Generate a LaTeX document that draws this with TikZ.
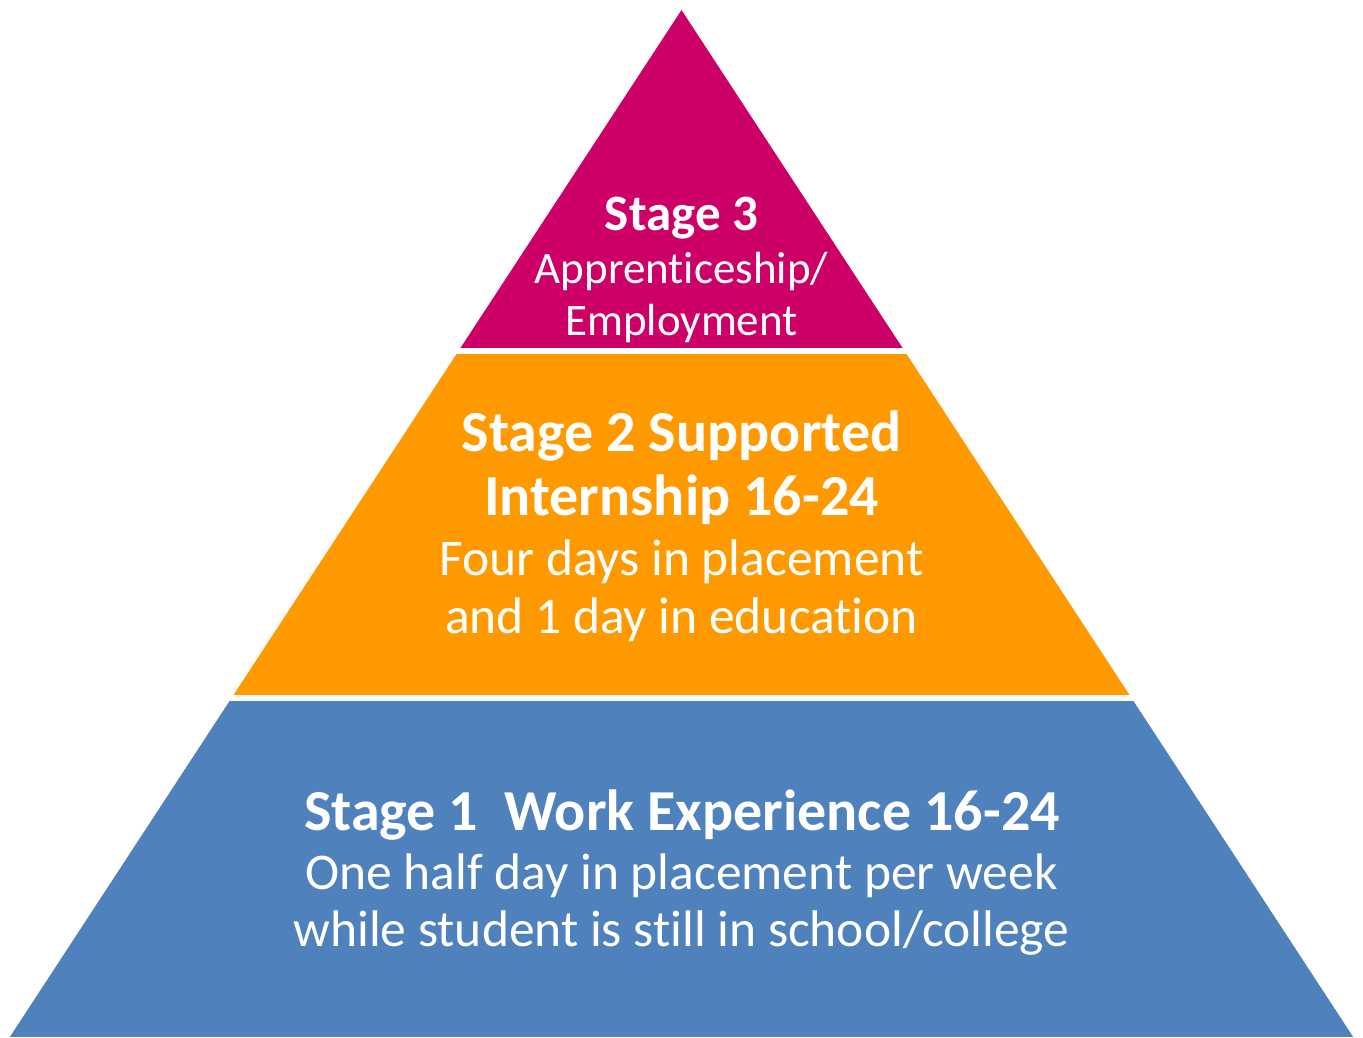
\documentclass[tikz,border=0pt]{standalone}
\usepackage{fontspec}
\setmainfont[RawFeature=-liga]{Carlito}
\definecolor{topc}{HTML}{CC0066}
\definecolor{midc}{HTML}{FF9900}
\definecolor{botc}{HTML}{4F81BD}
\tikzset{
  lbl/.style={text=white, inner sep=0pt, anchor=base},
  bigb/.style={lbl, font=\fontsize{58}{64}\selectfont\bfseries},
  bigr/.style={lbl, font=\fontsize{51.5}{58}\selectfont},
  smb/.style={lbl, font=\fontsize{51}{56}\selectfont\bfseries},
  smr/.style={lbl, font=\fontsize{45}{50}\selectfont},
}
\begin{document}
\begin{tikzpicture}[x=1pt,y=-1pt]
\useasboundingbox (0,0) rectangle (1363,1037);
\fill[white] (0,0) rectangle (1363,1037);
\coordinate (apex) at (681.5,10);
\coordinate (bl) at (9.8,1037);
\coordinate (br) at (1353.2,1037);
\begin{scope}
  \clip (apex) -- (br) -- (bl) -- cycle;
  \fill[topc] (0,0) rectangle (1363,348);
  \fill[midc] (0,354) rectangle (1363,695);
  \fill[botc] (0,701) rectangle (1363,1037);
\end{scope}
% Stage 3
\node[smb] (s3a) at (681.5,230) {Stage 3};
\node[smr] (s3b) at (681.5,283) {Apprenticeship/};
\node[smr] (s3c) at (681.5,335) {Employment};
% Stage 2
\node[bigb] (s2a) at (681.5,451) {Stage 2 Supported};
\node[bigb] (s2b) at (681.5,515) {Internship 16-24};
\node[bigr] (s2c) at (681.5,575) {Four days in placement};
\node[bigr] (s2d) at (681.5,633) {and 1 day in education};
% Stage 1
\node[bigb] (s1a) at (682,830) {Stage 1\ \ Work Experience 16-24};
\node[bigr] (s1b) at (681.5,889) {One half day in placement per week};
\node[bigr] (s1c) at (681.5,946) {while student is still in school/college};
\end{tikzpicture}
\end{document}
